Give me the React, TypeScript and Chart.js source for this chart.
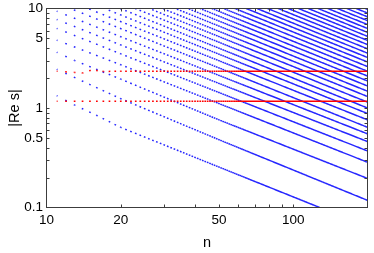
import React, { useEffect, useRef } from 'react';
import { Chart, registerables } from 'chart.js';

Chart.register(...registerables);

// ---- axis data ----
const X_MIN = 10;
const X_MAX = 200;
const Y_MIN = 0.1;
const Y_MAX = 10;
const X_TICK_LABELS = [10, 20, 50, 100];
const Y_TICK_LABELS = [0.1, 0.5, 1, 5, 10];
const X_MINOR_TICKS = [20, 30, 40, 50, 60, 70, 80, 90, 100];
const Y_MINOR_TICKS = [0.2, 0.3, 0.4, 0.5, 0.6, 0.7, 0.8, 0.9, 1, 2, 3, 4, 5, 6, 7, 8, 9];
const X_TITLE = 'n';
const Y_TITLE = '|Re s|';

// ---- red constant branches (n, |Re s|) ----
const RED_UPPER: number[][] = [[11, 2.34], [13, 2.28], [14, 2.25], [15, 2.38], [16, 2.38], [17, 2.33], [20, 2.34], [200, 2.34]];
const RED_LOWER: number[][] = [[11, 1.17], [200, 1.17]];

// ---- blue branches visible from the left edge (n, |Re s|) ----
const LOWER_FAMILIES: number[][][] = [
  [[11, 1.33], [13, 1.07], [16, 0.84], [20, 0.638], [50, 0.255], [128, 0.1]],
  [[11, 2.45], [15, 1.72], [20, 1.24], [50, 0.48], [200, 0.118]],
  [[11, 3.63], [13, 3.0], [20, 1.95], [50, 0.76], [200, 0.196]],
  [[11, 4.81], [20, 2.72], [200, 0.285]],
  [[11, 6.31], [20, 3.5], [200, 0.37]],
  [[11, 7.76], [20, 4.3], [200, 0.46]],
  [[11, 9.4], [20, 5.2], [200, 0.55]],
];

// ---- blue branches entering through the top edge ----
const UPPER_ENTRY_N = [12.5, 14.7, 17.2, 19.9, 22.9, 26.1, 29.5, 33.3, 37.4, 41.9, 46.8, 52.2, 58, 64.4, 71.2, 78.7, 86.8, 95.5, 105, 115, 126, 138, 151, 165, 180, 196];
const UPPER_EXIT_V = [0.64, 0.76, 0.88, 1.0, 1.145, 1.305, 1.475, 1.665, 1.87, 2.095, 2.34, 2.61, 2.9, 3.22, 3.56, 3.935, 4.34, 4.775, 5.25, 5.75, 6.3, 6.9, 7.55, 8.25, 9.0, 9.8];

const BLUE = 'rgba(0,0,255,0.85)';
const RED = 'rgb(255,0,0)';
const DOT = 1.7;
const LINE_W = 1.5;
const FONT = '"Liberation Sans", Arial, Helvetica, sans-serif';

// dash pattern placing one dot at every integer n along a segment
function dotDash(ctx: any) {
  const xs = ctx.chart.scales.x;
  const p0 = ctx.p0;
  const p1 = ctx.p1;
  const dx = p1.x - p0.x;
  const dy = p1.y - p0.y;
  const L = Math.hypot(dx, dy);
  if (!(L > 0) || Math.abs(dx) < 1e-6) return [];
  const n0 = xs.getValueForPixel(p0.x);
  const n1 = xs.getValueForPixel(p1.x);
  const pattern: number[] = [0];
  let pos = 0;
  for (let m = Math.ceil(n0 - 1e-6); m <= n1 + 1e-6; m++) {
    const s = ((xs.getPixelForValue(m) - p0.x) / dx) * L;
    const start = Math.max(s - DOT / 2, pos);
    const end = Math.max(s + DOT / 2, start);
    pattern.push(start - pos, end - start);
    pos = end;
  }
  pattern.push(L + 50);
  return pattern;
}

const toPts = (arr: number[][]) => arr.map(([x, y]) => ({ x, y }));

const axesPlugin = {
  id: 'boxAxes',
  afterDatasetsDraw(chart: any) {
    const { ctx, chartArea: a } = chart;
    const xs = chart.scales.x;
    const ys = chart.scales.y;
    const TL = 3;
    ctx.save();
    ctx.strokeStyle = '#3c3c3c';
    ctx.lineWidth = 1;
    ctx.strokeRect(a.left, a.top, a.right - a.left, a.bottom - a.top);
    ctx.beginPath();
    for (const v of X_MINOR_TICKS) {
      const px = Math.round(xs.getPixelForValue(v)) + 0.5;
      ctx.moveTo(px, a.bottom);
      ctx.lineTo(px, a.bottom - TL);
      ctx.moveTo(px, a.top);
      ctx.lineTo(px, a.top + TL);
    }
    for (const v of Y_MINOR_TICKS) {
      const py = Math.round(ys.getPixelForValue(v)) + 0.5;
      ctx.moveTo(a.left, py);
      ctx.lineTo(a.left + TL, py);
      ctx.moveTo(a.right, py);
      ctx.lineTo(a.right - TL, py);
    }
    ctx.stroke();

    ctx.fillStyle = '#000';
    ctx.font = `13.5px ${FONT}`;
    ctx.textAlign = 'center';
    ctx.textBaseline = 'alphabetic';
    for (const v of X_TICK_LABELS) {
      ctx.fillText(String(v), xs.getPixelForValue(v), 223.5);
    }
    ctx.textAlign = 'right';
    ctx.textBaseline = 'middle';
    for (const v of Y_TICK_LABELS) {
      ctx.fillText(String(v), a.left - 3.5, ys.getPixelForValue(v));
    }
    ctx.font = `14.5px ${FONT}`;
    ctx.textAlign = 'center';
    ctx.textBaseline = 'alphabetic';
    ctx.fillText(X_TITLE, (a.left + a.right) / 2, 247);
    ctx.save();
    ctx.translate(15, (a.top + a.bottom) / 2);
    ctx.rotate(-Math.PI / 2);
    ctx.textBaseline = 'middle';
    ctx.fillText(Y_TITLE, 0, 0);
    ctx.restore();
    ctx.restore();
  },
};

export default function App() {
  const ref = useRef<HTMLCanvasElement | null>(null);
  useEffect(() => {
    if (!ref.current) return;
    const mk = (data: number[][], color: string) => ({
      data: toPts(data),
      showLine: true,
      borderColor: color,
      backgroundColor: color,
      borderWidth: LINE_W,
      pointRadius: 0,
      segment: { borderDash: dotDash },
    });
    const datasets: any[] = [mk(RED_UPPER, RED), mk(RED_LOWER, RED)];
    LOWER_FAMILIES.forEach((f) => datasets.push(mk(f, BLUE)));
    UPPER_ENTRY_N.forEach((n, i) => datasets.push(mk([[n, Y_MAX], [X_MAX, UPPER_EXIT_V[i]]], BLUE)));

    const chart = new Chart(ref.current, {
      type: 'scatter',
      data: { datasets },
      options: {
        responsive: false,
        animation: false,
        events: [],
        devicePixelRatio: 1,
        layout: { padding: { left: 46.5, top: 8.5, right: 6.5, bottom: 45.5 } },
        plugins: { legend: { display: false }, tooltip: { enabled: false } },
        scales: {
          x: { type: 'logarithmic', min: X_MIN, max: X_MAX, display: false },
          y: { type: 'logarithmic', min: Y_MIN, max: Y_MAX, display: false },
        },
      },
      plugins: [axesPlugin],
    });
    return () => chart.destroy();
  }, []);
  return (
    <div style={{ position: 'fixed', left: 0, top: 0, width: 374, height: 253, background: '#fff' }}>
      <canvas ref={ref} width={374} height={253} />
    </div>
  );
}
